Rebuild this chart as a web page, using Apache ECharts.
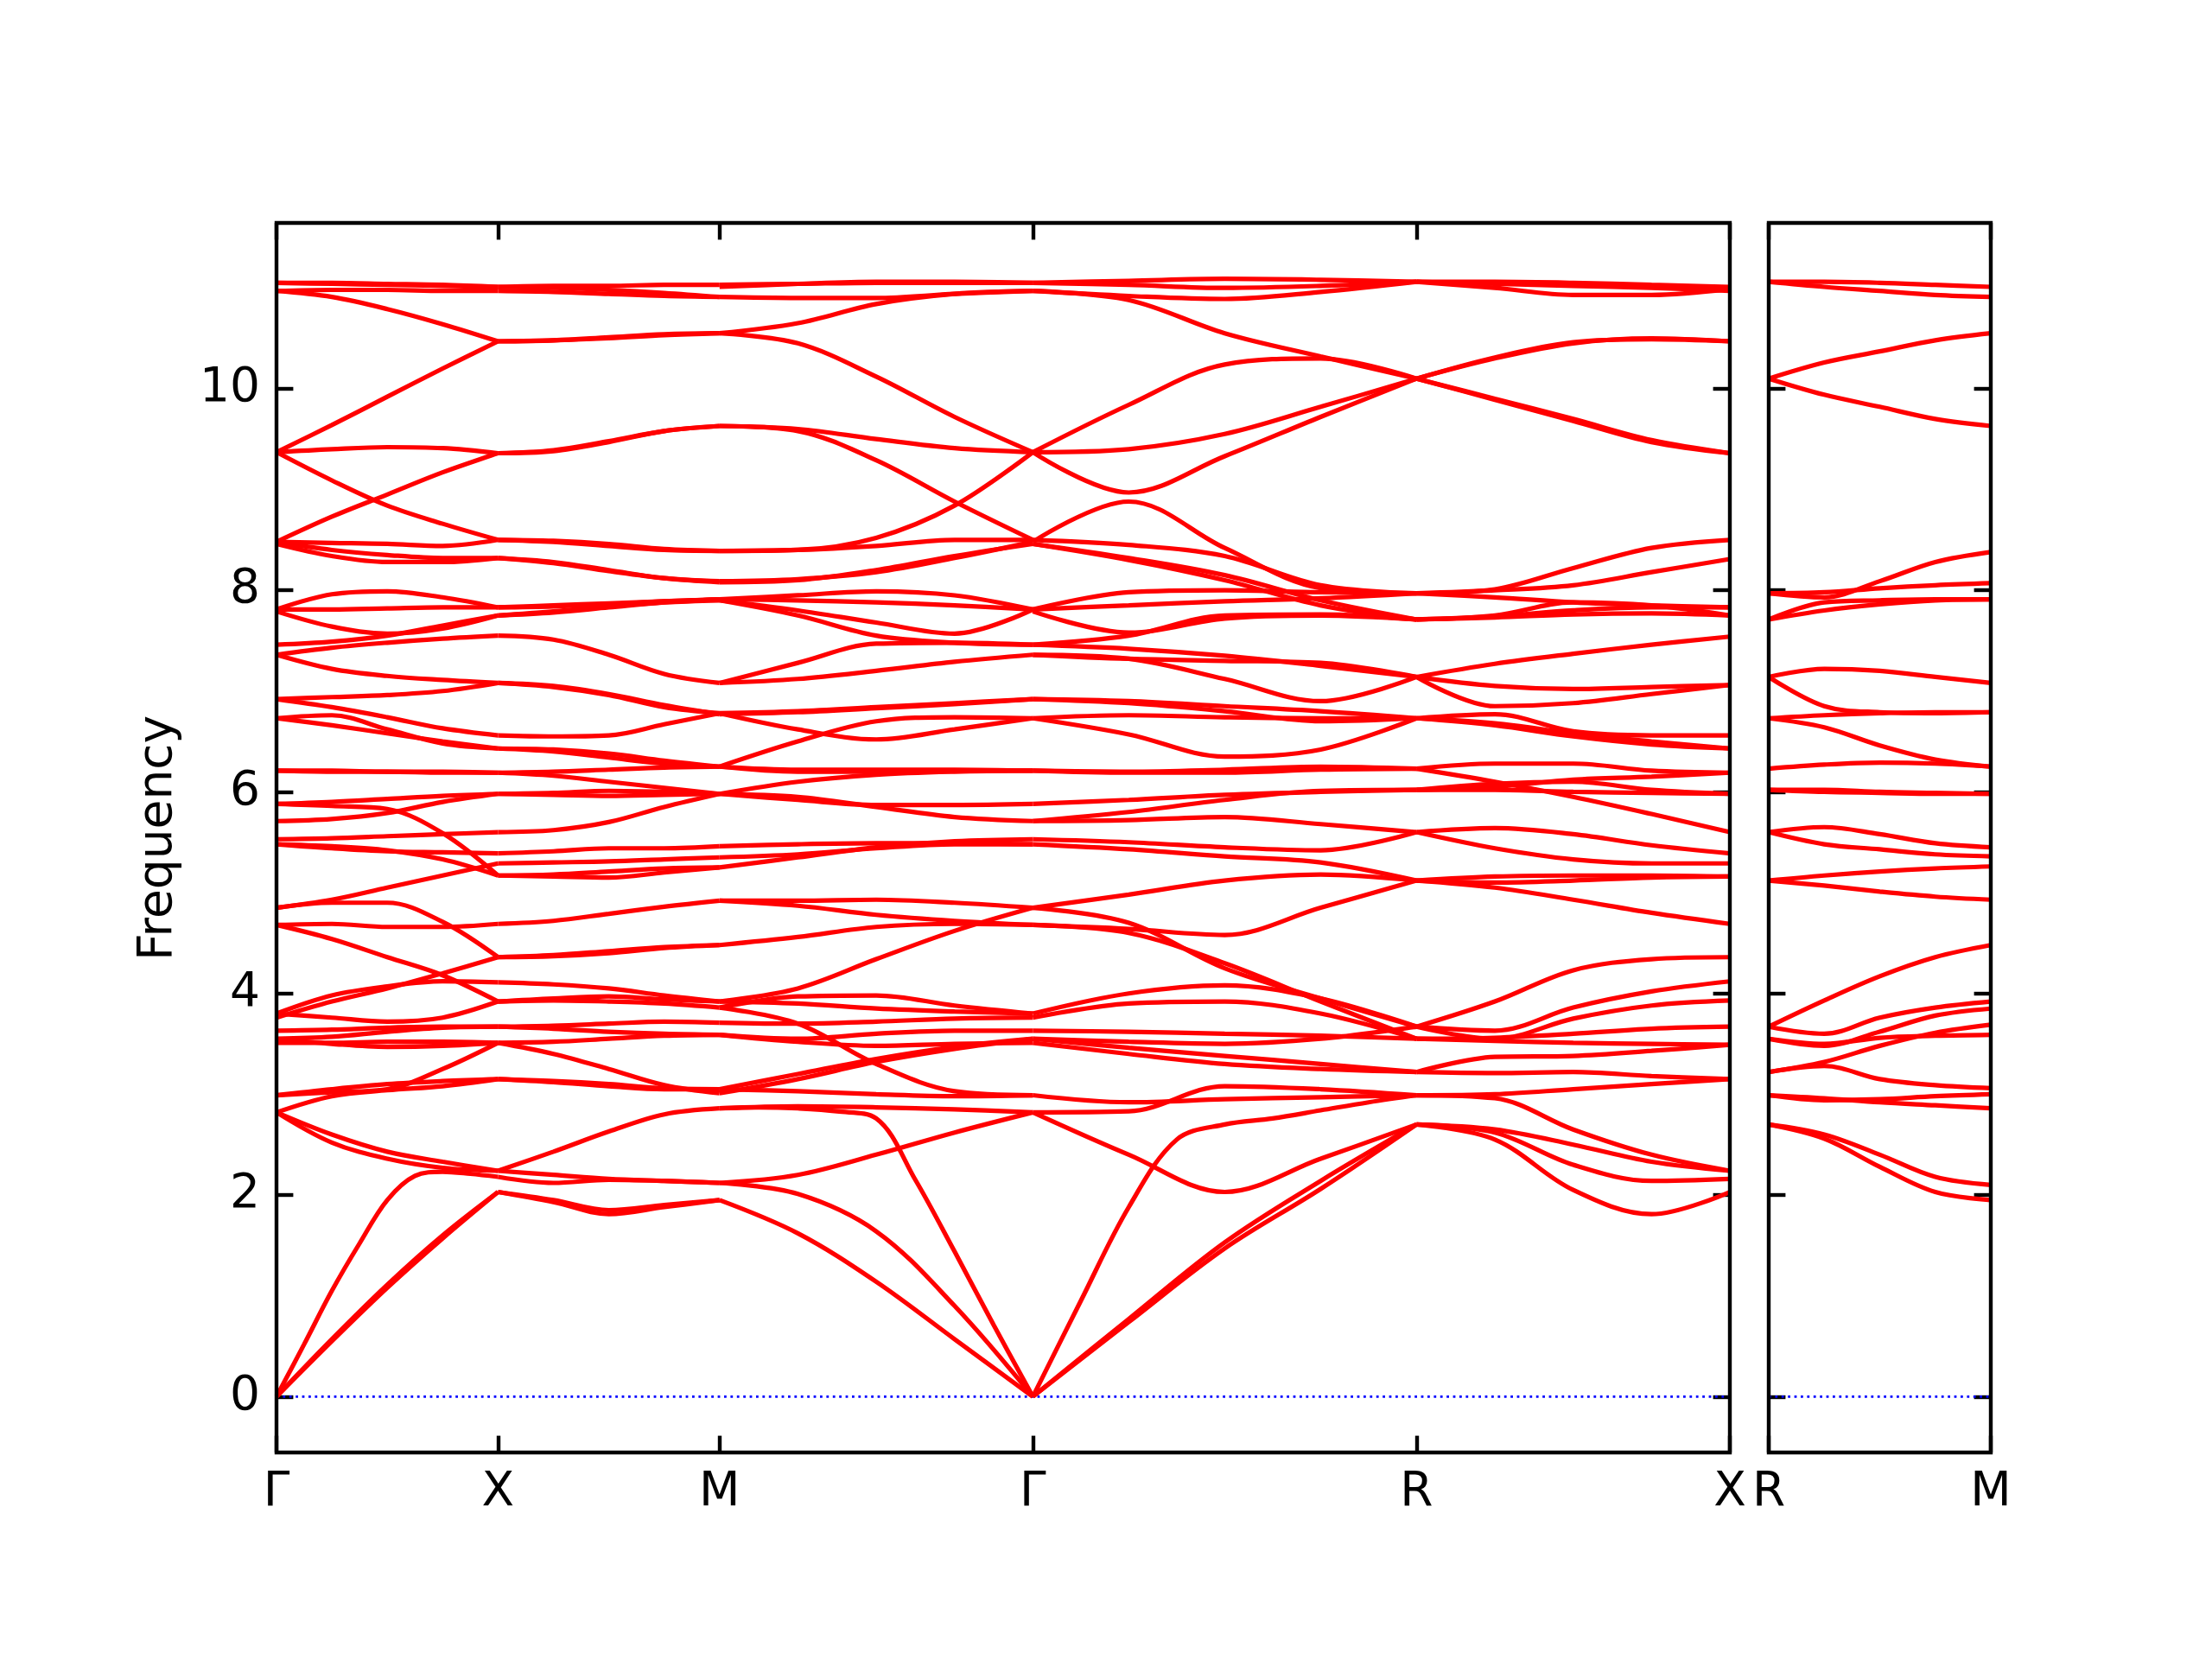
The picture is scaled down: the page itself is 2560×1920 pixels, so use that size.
<!DOCTYPE html>
<html>
<head>
<meta charset="utf-8">
<script src="https://cdn.jsdelivr.net/npm/echarts@6/dist/echarts.min.js"></script>
<style>
html,body{margin:0;padding:0;background:#fff;}
#chart{width:2560px;height:1920px;}
</style>
</head>
<body>
<div id="chart"></div>
<script>
// ---- high-symmetry path ----
const kLabelsMain = ['Γ', 'X', 'M', 'Γ', 'R', 'X'];
const kPosMain = [0, 0.5, 1.0, 1.7071, 2.5731, 3.2802];
const kLabelsSide = ['R', 'M'];
const kPosSide = [0, 0.5];
const yTicks = [0, 2, 4, 6, 8, 10];
const yMin = -0.5545, yMax = 11.6445;

// ---- band curves per segment (frequencies at evenly spaced points along the segment) ----
const segGX = [
  [11.05, 11.05, 11.04, 11.03, 11.01],
  [11.05, 11.04, 11.03, 11.02, 11.01],
  [10.97, 10.98, 10.98, 10.97, 10.97],
  [10.97, 10.91, 10.79, 10.64, 10.47],
  [9.37, 9.64, 9.92, 10.20, 10.47],
  [9.37, 9.40, 9.42, 9.41, 9.36],
  [9.37, 9.09, 8.84, 8.66, 8.50],
  [8.48, 8.73, 8.95, 9.17, 9.36],
  [8.48, 8.47, 8.46, 8.44, 8.50],
  [8.48, 8.40, 8.35, 8.32, 8.32],
  [8.46, 8.34, 8.28, 8.28, 8.32],
  [7.81, 7.96, 7.99, 7.93, 7.83],
  [7.81, 7.81, 7.82, 7.83, 7.83],
  [7.79, 7.64, 7.57, 7.62, 7.75],
  [7.46, 7.49, 7.55, 7.65, 7.75],
  [7.36, 7.43, 7.48, 7.52, 7.55],
  [7.36, 7.22, 7.15, 7.11, 7.08],
  [6.92, 6.94, 6.96, 7.00, 7.08],
  [6.92, 6.84, 6.74, 6.63, 6.56],
  [6.73, 6.76, 6.62, 6.48, 6.43],
  [6.73, 6.66, 6.58, 6.50, 6.43],
  [6.21, 6.21, 6.20, 6.20, 6.19],
  [6.21, 6.20, 6.20, 6.19, 6.19],
  [5.88, 5.90, 5.93, 5.96, 5.98],
  [5.71, 5.73, 5.79, 5.90, 5.98],
  [5.88, 5.86, 5.83, 5.59, 5.17],
  [5.53, 5.54, 5.56, 5.58, 5.60],
  [5.48, 5.44, 5.41, 5.40, 5.39],
  [5.48, 5.46, 5.42, 5.33, 5.17],
  [4.85, 4.93, 5.05, 5.17, 5.29],
  [4.85, 4.90, 4.90, 4.71, 4.36],
  [4.68, 4.69, 4.66, 4.66, 4.69],
  [4.68, 4.54, 4.36, 4.18, 3.92],
  [3.80, 3.98, 4.07, 4.12, 4.11],
  [3.76, 3.92, 4.05, 4.20, 4.36],
  [3.80, 3.76, 3.72, 3.76, 3.92],
  [3.63, 3.64, 3.66, 3.67, 3.67],
  [3.55, 3.57, 3.62, 3.66, 3.67],
  [3.51, 3.51, 3.52, 3.52, 3.51],
  [3.55, 3.50, 3.47, 3.48, 3.51],
  [2.99, 3.05, 3.10, 3.13, 3.15],
  [2.99, 3.02, 3.05, 3.25, 3.51],
  [2.82, 2.98, 3.04, 3.08, 3.15],
  [2.82, 2.60, 2.43, 2.33, 2.24],
  [2.82, 2.52, 2.36, 2.27, 2.24],
  [0, 0.52, 1.05, 1.52, 1.95, 2.19, 2.23, 2.21, 2.18],
  [0, 0.55, 1.08, 1.57, 2.03],
  [0, 0.57, 1.11, 1.60, 2.03]
];
const segXM = [
  [11.01, 11.02, 11.02, 11.03, 11.03],
  [11.01, 11.00, 10.98, 10.95, 10.91],
  [10.97, 10.96, 10.94, 10.92, 10.91],
  [10.47, 10.48, 10.50, 10.53, 10.55],
  [10.47, 10.48, 10.51, 10.54, 10.55],
  [9.36, 9.38, 9.47, 9.58, 9.63],
  [9.36, 9.39, 9.48, 9.58, 9.63],
  [8.50, 8.49, 8.46, 8.41, 8.39],
  [8.50, 8.48, 8.44, 8.40, 8.39],
  [8.32, 8.28, 8.20, 8.12, 8.09],
  [8.32, 8.27, 8.19, 8.12, 8.08],
  [7.83, 7.84, 7.86, 7.89, 7.91],
  [7.83, 7.85, 7.87, 7.89, 7.91],
  [7.75, 7.78, 7.83, 7.88, 7.91],
  [7.75, 7.79, 7.84, 7.88, 7.90],
  [7.55, 7.51, 7.36, 7.17, 7.08],
  [7.08, 7.04, 6.96, 6.84, 6.78],
  [7.08, 7.05, 6.97, 6.86, 6.77],
  [6.56, 6.55, 6.56, 6.67, 6.78],
  [6.43, 6.42, 6.38, 6.31, 6.25],
  [6.43, 6.40, 6.34, 6.28, 6.25],
  [6.19, 6.20, 6.22, 6.24, 6.25],
  [6.19, 6.16, 6.10, 6.04, 5.98],
  [5.98, 5.99, 6.01, 6.00, 5.98],
  [5.98, 5.97, 5.96, 5.97, 5.98],
  [5.60, 5.62, 5.70, 5.85, 5.98],
  [5.39, 5.41, 5.44, 5.44, 5.46],
  [5.29, 5.30, 5.31, 5.33, 5.35],
  [5.17, 5.16, 5.15, 5.20, 5.25],
  [5.17, 5.18, 5.21, 5.24, 5.25],
  [4.69, 4.72, 4.79, 4.86, 4.92],
  [4.36, 4.37, 4.40, 4.45, 4.48],
  [4.36, 4.38, 4.42, 4.46, 4.48],
  [4.11, 4.09, 4.05, 3.98, 3.92],
  [3.92, 3.93, 3.92, 3.90, 3.86],
  [3.92, 3.95, 3.97, 3.94, 3.92],
  [3.67, 3.68, 3.70, 3.72, 3.71],
  [3.67, 3.65, 3.62, 3.60, 3.59],
  [3.51, 3.52, 3.55, 3.58, 3.59],
  [3.51, 3.40, 3.25, 3.09, 3.01],
  [3.15, 3.13, 3.10, 3.06, 3.05],
  [3.15, 3.12, 3.08, 3.05, 3.05],
  [2.24, 2.43, 2.63, 2.80, 2.86],
  [2.24, 2.20, 2.16, 2.14, 2.12],
  [2.18, 2.12, 2.15, 2.14, 2.12],
  [2.03, 1.93, 1.81, 1.88, 1.95],
  [2.03, 1.95, 1.85, 1.90, 1.95]
];
const segMG = [
  [11.03, 11.04, 11.05, 11.05, 11.05],
  [11.01, 11.04, 11.06, 11.06, 11.05],
  [10.91, 10.90, 10.90, 10.94, 10.97],
  [10.55, 10.65, 10.84, 10.94, 10.97],
  [10.55, 10.45, 10.12, 9.72, 9.37],
  [9.63, 9.60, 9.50, 9.41, 9.37],
  [9.63, 9.58, 9.29, 8.88, 8.50],
  [8.39, 8.40, 8.52, 8.84, 9.37],
  [8.39, 8.40, 8.44, 8.50, 8.50],
  [8.09, 8.11, 8.18, 8.32, 8.48],
  [8.08, 8.10, 8.20, 8.34, 8.46],
  [7.91, 7.95, 7.99, 7.95, 7.81],
  [7.91, 7.90, 7.88, 7.85, 7.81],
  [7.90, 7.80, 7.68, 7.57, 7.81],
  [7.90, 7.75, 7.55, 7.48, 7.46],
  [7.08, 7.28, 7.47, 7.48, 7.46],
  [7.08, 7.12, 7.20, 7.29, 7.36],
  [6.78, 6.80, 6.84, 6.88, 6.92],
  [6.77, 6.79, 6.83, 6.87, 6.92],
  [6.78, 6.62, 6.52, 6.62, 6.73],
  [6.25, 6.50, 6.70, 6.74, 6.73],
  [6.25, 6.22, 6.22, 6.22, 6.21],
  [6.25, 6.20, 6.20, 6.21, 6.21],
  [5.98, 6.10, 6.17, 6.20, 6.21],
  [5.98, 5.92, 5.87, 5.87, 5.88],
  [5.98, 5.95, 5.85, 5.75, 5.71],
  [5.46, 5.48, 5.49, 5.49, 5.48],
  [5.35, 5.38, 5.44, 5.48, 5.48],
  [5.25, 5.35, 5.45, 5.51, 5.53],
  [4.92, 4.92, 4.93, 4.90, 4.85],
  [4.92, 4.87, 4.78, 4.72, 4.68],
  [4.48, 4.56, 4.66, 4.69, 4.68],
  [3.92, 4.05, 4.34, 4.62, 4.85],
  [3.92, 3.90, 3.85, 3.82, 3.80],
  [3.86, 3.97, 3.98, 3.88, 3.80],
  [3.71, 3.70, 3.72, 3.75, 3.76],
  [3.59, 3.55, 3.60, 3.63, 3.63],
  [3.59, 3.52, 3.48, 3.50, 3.51],
  [3.86, 3.70, 3.30, 3.03, 2.99],
  [3.05, 3.20, 3.35, 3.47, 3.55],
  [3.01, 3.15, 3.32, 3.45, 3.55],
  [3.05, 3.03, 3.00, 2.98, 2.99],
  [2.86, 2.88, 2.87, 2.85, 2.82],
  [2.86, 2.87, 2.86, 2.83, 2.76, 2.15, 1.44, 0.71, 0],
  [2.12, 2.20, 2.40, 2.62, 2.82],
  [2.12, 2.01, 1.64, 0.90, 0],
  [1.95, 1.62, 1.14, 0.57, 0]
];
const segGR = [
  [11.05, 11.07, 11.09, 11.08, 11.06],
  [11.05, 11.03, 11.00, 11.02, 11.06],
  [10.97, 10.92, 10.89, 10.96, 11.06],
  [10.97, 10.88, 10.55, 10.32, 10.10],
  [9.37, 9.84, 10.24, 10.30, 10.10],
  [9.37, 9.40, 9.55, 9.82, 10.10],
  [9.37, 8.97, 9.33, 9.72, 10.10],
  [8.48, 8.88, 8.42, 8.02, 7.97],
  [8.50, 8.45, 8.34, 8.05, 7.97],
  [8.46, 8.32, 8.15, 7.90, 7.71],
  [8.46, 8.30, 8.10, 7.85, 7.71],
  [7.81, 7.98, 8.00, 7.98, 7.97],
  [7.81, 7.85, 7.89, 7.92, 7.97],
  [7.79, 7.58, 7.72, 7.75, 7.71],
  [7.46, 7.55, 7.75, 7.76, 7.71],
  [7.36, 7.32, 7.30, 7.28, 7.14],
  [7.36, 7.32, 7.12, 6.90, 7.14],
  [7.46, 7.42, 7.35, 7.25, 7.14],
  [6.92, 6.90, 6.85, 6.80, 6.73],
  [6.92, 6.88, 6.80, 6.70, 6.73],
  [6.73, 6.76, 6.74, 6.73, 6.73],
  [6.73, 6.57, 6.35, 6.42, 6.73],
  [6.21, 6.19, 6.19, 6.22, 6.23],
  [6.21, 6.20, 6.22, 6.25, 6.23],
  [5.88, 5.92, 5.97, 6.00, 6.02],
  [5.71, 5.80, 5.92, 6.01, 6.02],
  [5.71, 5.72, 5.75, 5.68, 5.60],
  [5.53, 5.50, 5.45, 5.42, 5.60],
  [5.48, 5.43, 5.36, 5.30, 5.12],
  [4.85, 4.98, 5.12, 5.18, 5.12],
  [4.68, 4.64, 4.58, 4.85, 5.12],
  [4.85, 4.70, 4.25, 3.95, 3.67],
  [4.68, 4.60, 4.30, 3.92, 3.55],
  [3.80, 4.00, 4.08, 3.95, 3.67],
  [3.76, 3.90, 3.92, 3.80, 3.55],
  [3.63, 3.62, 3.60, 3.58, 3.55],
  [3.55, 3.46, 3.38, 3.30, 3.22],
  [3.51, 3.40, 3.30, 3.25, 3.22],
  [3.55, 3.52, 3.50, 3.55, 3.67],
  [0, 0.95, 1.88, 2.55, 2.70, 2.76, 2.84, 2.92, 2.99],
  [2.82, 2.83, 3.08, 3.05, 2.99],
  [2.82, 2.40, 2.03, 2.36, 2.70],
  [0, 0.77, 1.53, 2.14, 2.70],
  [0, 0.74, 1.47, 2.06, 2.70],
  [2.99, 2.92, 2.95, 2.97, 2.99]
];
const segRX = [
  [11.06, 11.06, 11.05, 11.03, 11.01],
  [11.06, 11.00, 10.93, 10.93, 10.99],
  [11.06, 11.04, 11.02, 11.00, 10.97],
  [10.10, 10.30, 10.45, 10.50, 10.47],
  [10.10, 10.31, 10.46, 10.49, 10.47],
  [10.10, 9.90, 9.70, 9.49, 9.36],
  [10.10, 9.89, 9.68, 9.47, 9.36],
  [7.97, 8.01, 8.22, 8.42, 8.50],
  [7.97, 8.00, 8.05, 8.18, 8.31],
  [7.97, 7.93, 7.88, 7.85, 7.83],
  [7.71, 7.75, 7.88, 7.85, 7.75],
  [7.71, 7.73, 7.76, 7.77, 7.75],
  [7.71, 7.74, 7.80, 7.83, 7.83],
  [7.14, 7.27, 7.37, 7.46, 7.54],
  [7.14, 6.85, 6.88, 6.97, 7.06],
  [7.14, 7.05, 7.02, 7.04, 7.06],
  [6.73, 6.77, 6.60, 6.56, 6.56],
  [6.73, 6.66, 6.55, 6.47, 6.43],
  [6.73, 6.68, 6.58, 6.50, 6.43],
  [6.23, 6.28, 6.28, 6.21, 6.19],
  [6.23, 6.10, 5.95, 5.78, 5.60],
  [6.02, 6.02, 6.00, 5.99, 5.98],
  [6.02, 6.08, 6.10, 6.02, 5.98],
  [6.02, 6.05, 6.12, 6.15, 6.19],
  [5.60, 5.64, 5.58, 5.47, 5.39],
  [5.60, 5.44, 5.33, 5.29, 5.29],
  [5.12, 5.16, 5.17, 5.17, 5.16],
  [5.12, 5.05, 4.93, 4.80, 4.69],
  [5.12, 5.10, 5.12, 5.15, 5.16],
  [3.67, 3.92, 4.23, 4.34, 4.36],
  [3.67, 3.63, 3.86, 4.02, 4.12],
  [3.67, 3.55, 3.75, 3.88, 3.93],
  [3.55, 3.56, 3.60, 3.65, 3.67],
  [3.55, 3.53, 3.51, 3.50, 3.49],
  [3.22, 3.37, 3.38, 3.43, 3.49],
  [3.22, 3.21, 3.22, 3.18, 3.15],
  [2.99, 3.00, 3.05, 3.10, 3.15],
  [2.99, 2.96, 2.65, 2.40, 2.24],
  [2.70, 2.62, 2.30, 2.14, 2.16],
  [2.70, 2.55, 2.05, 1.81, 2.03],
  [2.70, 2.65, 2.50, 2.33, 2.24]
];
const segRM = [
  [11.06, 11.06, 11.05, 11.03, 11.01],
  [11.06, 11.01, 10.97, 10.93, 10.91],
  [10.10, 10.26, 10.37, 10.48, 10.55],
  [10.10, 9.94, 9.82, 9.70, 9.63],
  [7.97, 7.93, 8.09, 8.28, 8.38],
  [7.97, 7.98, 8.02, 8.05, 8.07],
  [7.71, 7.88, 7.90, 7.91, 7.91],
  [7.71, 7.80, 7.86, 7.90, 7.91],
  [7.14, 7.22, 7.20, 7.14, 7.08],
  [7.14, 6.85, 6.79, 6.78, 6.79],
  [6.73, 6.76, 6.78, 6.79, 6.79],
  [6.73, 6.64, 6.46, 6.32, 6.25],
  [6.23, 6.27, 6.29, 6.28, 6.25],
  [6.02, 6.00, 5.99, 5.98, 5.98],
  [6.02, 6.02, 6.00, 5.99, 5.98],
  [5.60, 5.65, 5.58, 5.49, 5.45],
  [5.60, 5.48, 5.43, 5.38, 5.36],
  [5.12, 5.17, 5.21, 5.24, 5.26],
  [5.12, 5.07, 5.01, 4.96, 4.93],
  [3.67, 3.93, 4.17, 4.36, 4.48],
  [3.67, 3.60, 3.76, 3.86, 3.92],
  [3.55, 3.48, 3.62, 3.78, 3.85],
  [3.55, 3.50, 3.56, 3.58, 3.59],
  [3.22, 3.32, 3.48, 3.61, 3.69],
  [3.22, 3.28, 3.15, 3.09, 3.06],
  [2.99, 2.94, 2.95, 2.98, 3.00],
  [2.99, 2.96, 2.92, 2.89, 2.86],
  [2.70, 2.60, 2.40, 2.18, 2.10],
  [2.70, 2.56, 2.28, 2.03, 1.95]
];

// ---- build chart ----
const FONT = 'DejaVu Sans';
const FS = 55;
const TICK_LEN = 19.4, TICK_W = 4.4;
const chart = echarts.init(document.getElementById('chart'), null, {renderer: 'canvas'});

const series = [];
function addSegment(curves, x0, x1, xi, yi) {
  curves.forEach(c => {
    const n = c.length;
    series.push({
      type: 'line', xAxisIndex: xi, yAxisIndex: yi,
      data: c.map((v, i) => [x0 + (x1 - x0) * i / (n - 1), v]),
      smooth: 0.35, symbol: 'none', silent: true, clip: true, z: 3,
      lineStyle: {color: '#ff0000', width: 5.2}
    });
  });
}
const mainSegs = [segGX, segXM, segMG, segGR, segRX];
mainSegs.forEach((s, i) => addSegment(s, kPosMain[i], kPosMain[i + 1], 0, 0));
addSegment(segRM, kPosSide[0], kPosSide[1], 2, 2);

// zero line (blue dotted)
series.push({type: 'line', xAxisIndex: 0, yAxisIndex: 0, data: [[kPosMain[0], 0], [kPosMain[kPosMain.length - 1], 0]],
  symbol: 'none', silent: true, z: 2, lineStyle: {color: '#0000ff', width: 2.8, type: [2.8, 4.6]}});
series.push({type: 'line', xAxisIndex: 2, yAxisIndex: 2, data: [[kPosSide[0], 0], [kPosSide[1], 0]],
  symbol: 'none', silent: true, z: 2, lineStyle: {color: '#0000ff', width: 2.8, type: [2.8, 4.6]}});

function xAxisDef(grid, pos, vals, labels, max, showLabel) {
  return {
    type: 'value', gridIndex: grid, position: pos, min: 0, max: max,
    axisLine: {show: false, onZero: false}, splitLine: {show: false},
    axisTick: {show: true, inside: true, length: TICK_LEN, customValues: vals, lineStyle: {color: '#000', width: TICK_W}},
    axisLabel: {show: showLabel, customValues: vals, showMinLabel: true, showMaxLabel: true,
      margin: 19, color: '#000', fontSize: FS, fontFamily: FONT,
      formatter: v => { const i = vals.findIndex(p => Math.abs(p - v) < 1e-6); return i >= 0 ? labels[i] : ''; }}
  };
}
function yAxisDef(grid, pos, showLabel) {
  return {
    type: 'value', gridIndex: grid, position: pos, min: yMin, max: yMax,
    axisLine: {show: false, onZero: false}, splitLine: {show: false},
    axisTick: {show: true, inside: true, length: TICK_LEN, customValues: yTicks, lineStyle: {color: '#000', width: TICK_W}},
    axisLabel: {show: showLabel, customValues: yTicks, margin: 19, color: '#000', fontSize: FS, fontFamily: FONT,
      formatter: v => String(Math.round(v))}
  };
}
const mainMax = kPosMain[kPosMain.length - 1];
const option = {
  animation: false,
  backgroundColor: '#ffffff',
  grid: [
    {left: 320, top: 258, width: 1682, height: 1423, show: true, borderColor: '#000', borderWidth: 4.4, backgroundColor: 'rgba(0,0,0,0)', z: 5},
    {left: 2047, top: 258, width: 257, height: 1423, show: true, borderColor: '#000', borderWidth: 4.4, backgroundColor: 'rgba(0,0,0,0)', z: 5}
  ],
  xAxis: [
    xAxisDef(0, 'bottom', kPosMain, kLabelsMain, mainMax, true),
    xAxisDef(0, 'top', kPosMain, kLabelsMain, mainMax, false),
    xAxisDef(1, 'bottom', kPosSide, kLabelsSide, kPosSide[1], true),
    xAxisDef(1, 'top', kPosSide, kLabelsSide, kPosSide[1], false)
  ],
  yAxis: [
    yAxisDef(0, 'left', true),
    yAxisDef(0, 'right', false),
    yAxisDef(1, 'left', false),
    yAxisDef(1, 'right', false)
  ],
  graphic: [{
    type: 'text', x: 184, y: 970, rotation: Math.PI / 2,
    style: {text: 'Frequency', fill: '#000', font: FS + 'px "' + FONT + '"', textAlign: 'center', textVerticalAlign: 'middle'}
  }],
  series: series
};
chart.setOption(option);
</script>
</body>
</html>
